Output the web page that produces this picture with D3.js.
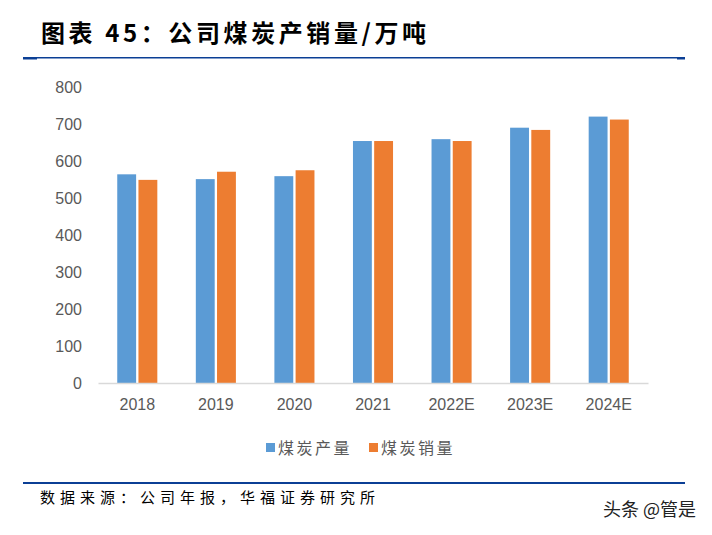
<!DOCTYPE html>
<html><head><meta charset="utf-8">
<script src="https://cdn.jsdelivr.net/npm/d3@7"></script>
<style>
body{margin:0;background:#fff;}
svg{display:block;}
</style></head>
<body>
<svg id="chart" width="712" height="535"></svg>
<script>
const categories = ["2018","2019","2020","2021","2022E","2023E","2024E"];
const production = [564, 551, 559, 654, 659, 690, 720];
const sales = [549, 571, 575, 654, 654, 684, 712];
const seriesNames = ["煤炭产量","煤炭销量"];
const colors = ["#5B9BD5","#ED7D31"];
const yTicks = [0,100,200,300,400,500,600,700,800];

const svg = d3.select("#chart");

// title
svg.append("text").attr("x",41).attr("y",42)
  .attr("font-family","'Noto Sans CJK SC'").attr("font-weight","bold")
  .attr("font-size",24).attr("letter-spacing",3.6).attr("fill","#000").text("图表 45：公司煤炭产销量/万吨");
// top rule
svg.append("rect").attr("x",23).attr("y",57).attr("width",662).attr("height",1.5).attr("fill","#0B3F95");
svg.append("rect").attr("x",23).attr("y",57).attr("width",14).attr("height",2.5).attr("fill","#0B3F95");
svg.append("rect").attr("x",677).attr("y",57).attr("width",8).attr("height",2.5).attr("fill","#0B3F95");

const x = d3.scaleBand().domain(categories).range([98,648]).paddingInner(0.49).paddingOuter(0.245);
const x1 = d3.scaleBand().domain([0,1]).range([0,x.bandwidth()]).paddingInner(0.11);
const y = d3.scaleLinear().domain([0,800]).range([383,87]);

// y axis
const yAxis = d3.axisLeft(y).tickValues(yTicks).tickSize(0).tickPadding(16);
const gy = svg.append("g").attr("transform","translate(98,0)").call(yAxis);
gy.select(".domain").remove();
gy.selectAll("text").attr("font-family","'Liberation Sans', Arial").attr("font-size",16).attr("fill","#595959");

// bars
const g = svg.append("g");
categories.forEach((c,i)=>{
  [production[i], sales[i]].forEach((v,j)=>{
    g.append("rect").attr("x", x(c)+x1(j)).attr("y", y(v))
      .attr("width", x1.bandwidth()).attr("height", y(0)-y(v)).attr("fill", colors[j]);
  });
});

// x axis
const xAxis = d3.axisBottom(x).tickSize(0).tickPadding(16);
const gx = svg.append("g").attr("transform","translate(0,383)").call(xAxis);
gx.select(".domain").attr("stroke","#D9D9D9").attr("stroke-width",1.5);
gx.selectAll("text").attr("font-family","'Liberation Sans', Arial").attr("font-size",16).attr("fill","#595959");

// legend
const legendX = [266, 369];
seriesNames.forEach((n,j)=>{
  svg.append("rect").attr("x",legendX[j]).attr("y",443).attr("width",9).attr("height",9).attr("fill",colors[j]);
  svg.append("text").attr("x",legendX[j]+12).attr("y",453.5)
    .attr("font-family","'Noto Sans CJK SC'").attr("font-size",16).attr("letter-spacing",2.5)
    .attr("fill","#595959").text(n);
});

// bottom rule
svg.append("rect").attr("x",23).attr("y",482).attr("width",662).attr("height",2).attr("fill","#0B3F95");
svg.append("text").attr("x",40).attr("y",503)
  .attr("font-family","'Noto Sans CJK SC'").attr("font-size",15).attr("letter-spacing",5).attr("fill","#000")
  .text("数据来源：公司年报，华福证券研究所");
svg.append("text").attr("x",603).attr("y",516)
  .attr("font-family","'Noto Sans CJK SC'").attr("font-size",18).attr("fill","#222")
  .text("头条 @管是");
</script>
</body></html>
